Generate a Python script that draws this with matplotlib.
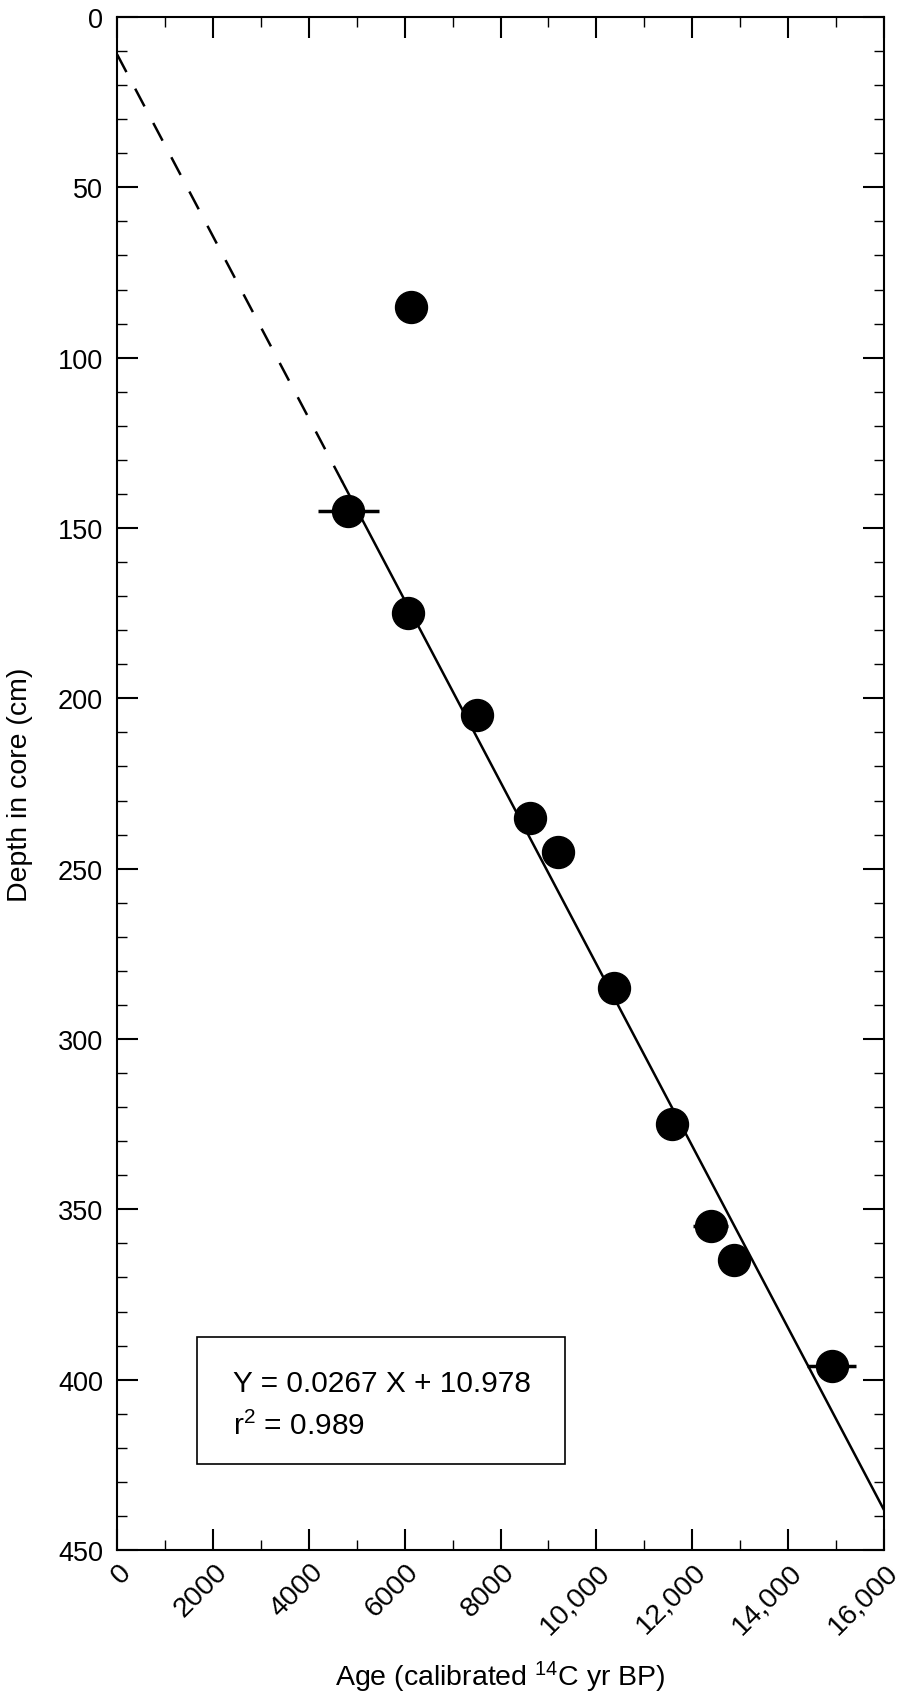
import numpy as np
import matplotlib
matplotlib.use("Agg")
import matplotlib.pyplot as plt
from matplotlib.patches import Rectangle
from matplotlib.transforms import ScaledTranslation

plt.rcParams['font.family'] = ['Liberation Sans', 'DejaVu Sans']
plt.rcParams['mathtext.fontset'] = 'custom'
plt.rcParams['mathtext.rm'] = 'Liberation Sans'
plt.rcParams['mathtext.default'] = 'regular'

# radiocarbon dates: calibrated age (yr BP) vs depth in core (cm)
age = [6130, 4825, 6063, 7516, 8615, 9193, 10367, 11584, 12383, 12876, 14908]
depth = [85, 145, 175, 205, 235, 245, 285, 325, 355, 365, 396]
age_err = [0, 636, 0, 0, 0, 0, 0, 0, 370, 0, 515]

# regression Y = 0.0267 X + 10.978
slope = 0.0267
intercept = 10.978
r2 = 0.989
dash_end = 4700  # fit extrapolated (dashed) above this age
x_max = 16000

xticks = [0, 2000, 4000, 6000, 8000, 10000, 12000, 14000, 16000]
xtick_labels = ['0', '2000', '4000', '6000', '8000', '10,000', '12,000', '14,000', '16,000']
yticks = [0, 50, 100, 150, 200, 250, 300, 350, 400, 450]

fig = plt.figure(figsize=(9.01, 16.99), dpi=100)
ax = fig.add_axes([0.130, 0.0871, 0.851, 0.9023])

xd = np.array([0, dash_end])
xs = np.array([dash_end, x_max])
ax.plot(xd, slope * xd + intercept, color='black', lw=1.8, dashes=(8, 7.5), zorder=2)
ax.plot(xs, slope * xs + intercept, color='black', lw=1.8, zorder=2)

a = np.array(age)
d = np.array(depth)
e = np.array(age_err)
m = e > 0
ax.errorbar(a[m], d[m], xerr=e[m], fmt='none', ecolor='black', elinewidth=2.5, capsize=0, zorder=3)
ax.plot(a, d, 'o', color='black', markersize=23, zorder=4)

ax.set_xlim(0, x_max)
ax.set_ylim(450, 0)
ax.set_xticks(xticks)
ax.set_xticklabels(xtick_labels)
ax.set_yticks(yticks)
ax.set_xticks(np.arange(0, x_max + 1, 1000), minor=True)
ax.set_yticks(np.arange(0, 451, 10), minor=True)

ax.tick_params(which='both', direction='in', top=True, right=True, labelsize=19.5)
ax.tick_params(which='major', length=15, width=1.5)
ax.tick_params(which='minor', length=7.5, width=1.0)
ax.tick_params(axis='y', which='major', pad=10)
ax.tick_params(axis='x', which='major', pad=6, labelsize=20.5)
for sp in ax.spines.values():
    sp.set_linewidth(1.5)

offset = ScaledTranslation(1 / 100, 0, fig.dpi_scale_trans)
for lab in ax.get_xticklabels():
    lab.set_rotation(45)
    lab.set_rotation_mode('anchor')
    lab.set_ha('right')
    lab.set_va('top')
    lab.set_transform(lab.get_transform() + offset)

ax.set_xlabel('Age (calibrated $^{14}$C yr BP)', fontsize=20.5)
ax.xaxis.set_label_coords(0.5, -0.071)
ax.set_ylabel('Depth in core (cm)', fontsize=20.5)
ax.yaxis.set_label_coords(-0.1095, 0.5)

ax.add_patch(Rectangle((0.1047, 0.0561), 0.4793, 0.0826, transform=ax.transAxes,
                       fill=False, edgecolor='black', lw=1.2, zorder=5))
ax.text(0.1516, 0.1039, 'Y = %.4f X + %.3f' % (slope, intercept), transform=ax.transAxes,
        fontsize=21.5, va='baseline', ha='left')
ax.text(0.1516, 0.0757, 'r$^{2}$ = %.3f' % r2, transform=ax.transAxes,
        fontsize=21.5, va='baseline', ha='left')

fig.savefig('out.png', dpi=100)
